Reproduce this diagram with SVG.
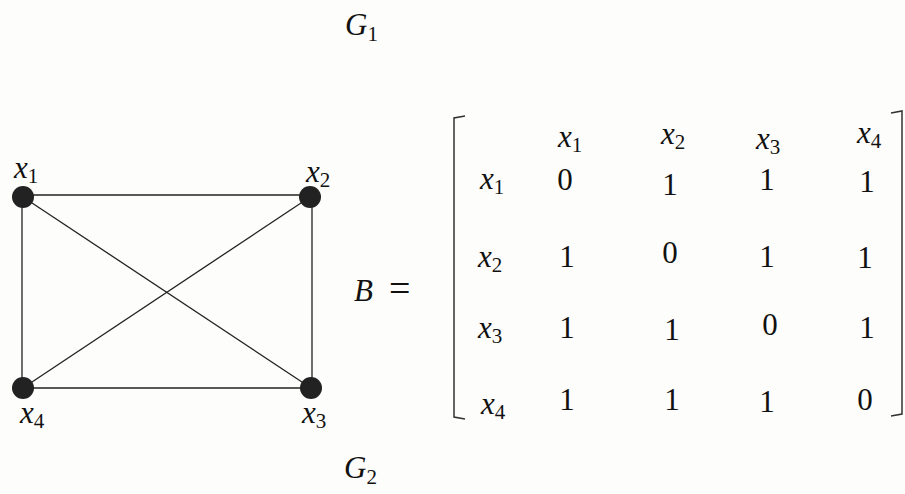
<svg xmlns="http://www.w3.org/2000/svg" width="905" height="494" viewBox="0 0 905 494">
<style>
.t{font-family:"Liberation Serif","Times New Roman",serif;font-size:31px;fill:#111}
.v{font-style:italic}
.s{font-style:normal;font-size:21px}
.e{stroke:#222;stroke-width:1.3;fill:none}
.n{fill:#222}
.br{stroke:#333;stroke-width:1.5;fill:none}
</style>
<rect width="905" height="494" fill="#fdfdfb"/>
<text class="t" x="345" y="35"><tspan class="v">G</tspan><tspan class="s" dy="6">1</tspan></text>
<text class="t" x="344" y="478"><tspan class="v">G</tspan><tspan class="s" dy="6">2</tspan></text>
<g id="edges">
<line class="e" x1="23" y1="195" x2="310" y2="195"/>
<line class="e" x1="22" y1="197" x2="22" y2="388"/>
<line class="e" x1="312" y1="197" x2="312" y2="388"/>
<line class="e" x1="23" y1="388" x2="311" y2="388"/>
<line class="e" x1="23" y1="197" x2="311" y2="388"/>
<line class="e" x1="310" y1="197" x2="23" y2="388"/>
</g>
<g id="x1"><circle class="n" cx="23" cy="197" r="11"/><text class="t" x="14" y="178"><tspan class="v">x</tspan><tspan class="s" dy="5">1</tspan></text></g>
<g id="x2"><circle class="n" cx="310" cy="197" r="11"/><text class="t" x="306" y="182"><tspan class="v">x</tspan><tspan class="s" dy="5">2</tspan></text></g>
<g id="x3"><circle class="n" cx="311" cy="388" r="11"/><text class="t" x="302" y="423"><tspan class="v">x</tspan><tspan class="s" dy="5">3</tspan></text></g>
<g id="x4"><circle class="n" cx="23" cy="388" r="11"/><text class="t" x="20" y="423"><tspan class="v">x</tspan><tspan class="s" dy="5">4</tspan></text></g>
<text class="t" x="354" y="301"><tspan class="v">B</tspan><tspan x="389" font-size="38">=</tspan></text>
<g id="matrix">
<polyline class="br" points="465,116 454,118 454,417 465,419"/>
<polyline class="br" points="891,113 902,111 902,414 891,416"/>
<text class="t" x="558" y="147"><tspan class="v">x</tspan><tspan class="s" dy="5">1</tspan></text>
<text class="t" x="661" y="144"><tspan class="v">x</tspan><tspan class="s" dy="5">2</tspan></text>
<text class="t" x="756" y="149"><tspan class="v">x</tspan><tspan class="s" dy="5">3</tspan></text>
<text class="t" x="857" y="143"><tspan class="v">x</tspan><tspan class="s" dy="5">4</tspan></text>
<text class="t" x="480" y="189"><tspan class="v">x</tspan><tspan class="s" dy="5">1</tspan></text>
<text class="t" x="478" y="267"><tspan class="v">x</tspan><tspan class="s" dy="5">2</tspan></text>
<text class="t" x="478" y="338"><tspan class="v">x</tspan><tspan class="s" dy="5">3</tspan></text>
<text class="t" x="481" y="414"><tspan class="v">x</tspan><tspan class="s" dy="5">4</tspan></text>
<g text-anchor="middle">
<text class="t" x="565" y="190">0</text><text class="t" x="670" y="195">1</text><text class="t" x="767" y="190">1</text><text class="t" x="867" y="192">1</text>
<text class="t" x="567" y="267">1</text><text class="t" x="670" y="263">0</text><text class="t" x="767" y="267">1</text><text class="t" x="865" y="268">1</text>
<text class="t" x="567" y="338">1</text><text class="t" x="672" y="340">1</text><text class="t" x="770" y="335">0</text><text class="t" x="867" y="338">1</text>
<text class="t" x="567" y="410">1</text><text class="t" x="672" y="410">1</text><text class="t" x="767" y="412">1</text><text class="t" x="865" y="410">0</text>
</g>
</g>
</svg>
